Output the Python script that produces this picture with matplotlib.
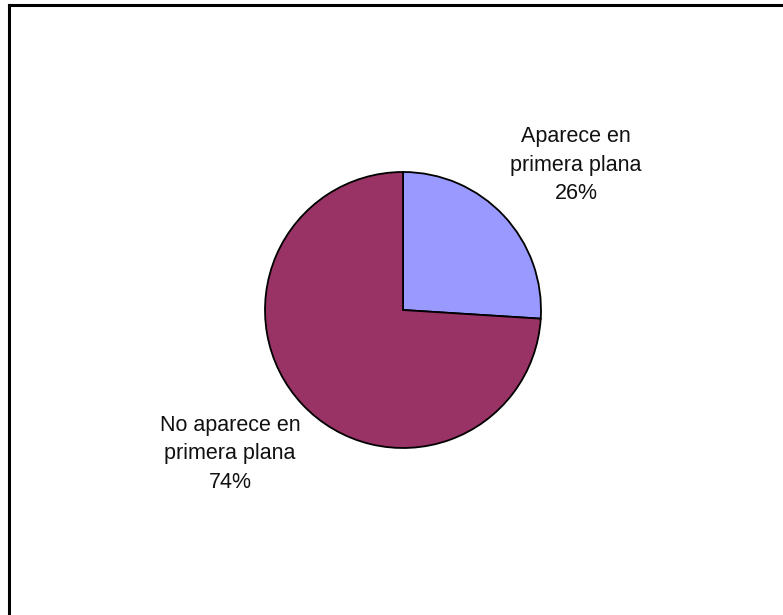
#!/usr/bin/env python3
"""Pie chart: front-page appearance share."""

import matplotlib

matplotlib.use("Agg")
import matplotlib.pyplot as plt
from matplotlib.lines import Line2D

labels = ["Aparece en\nprimera plana", "No aparece en\nprimera plana"]
shares = [26, 74]
colors = ["#9999FF", "#993366"]

W, H = 783, 615


def main() -> int:
    plt.rcParams["font.family"] = ["Liberation Sans", "DejaVu Sans"]
    fig = plt.figure(figsize=(W / 100, H / 100), dpi=100)
    ax = fig.add_axes([0, 0, 1, 1])

    # pixel-based data coords, y up
    cx, cy, r = 403, H - 310, 138
    wedges, _ = ax.pie(
        shares,
        colors=colors,
        startangle=90,
        counterclock=False,
        center=(cx, cy),
        radius=r,
        wedgeprops=dict(edgecolor="black", linewidth=1.3),
        frame=True,
    )
    ax.set_xlim(0, W)
    ax.set_ylim(0, H)
    ax.set_aspect("equal")
    ax.axis("off")

    # outer chart-area frame (cropped on right/bottom)
    ax.add_line(Line2D([9, W], [H - 5, H - 5], color="black", lw=2.2))
    ax.add_line(Line2D([9, 9], [0, H - 5], color="black", lw=2.2))

    label_pos = [(576, H - 165), (230, H - 454)]
    for lab, val, (x, y) in zip(labels, shares, label_pos):
        ax.text(x, y, f"{lab}\n{val}%", ha="center", va="center",
                fontsize=15.5, linespacing=1.45, color="#111111")

    fig.savefig("out.png", dpi=100)
    return 0


if __name__ == "__main__":
    raise SystemExit(main())
